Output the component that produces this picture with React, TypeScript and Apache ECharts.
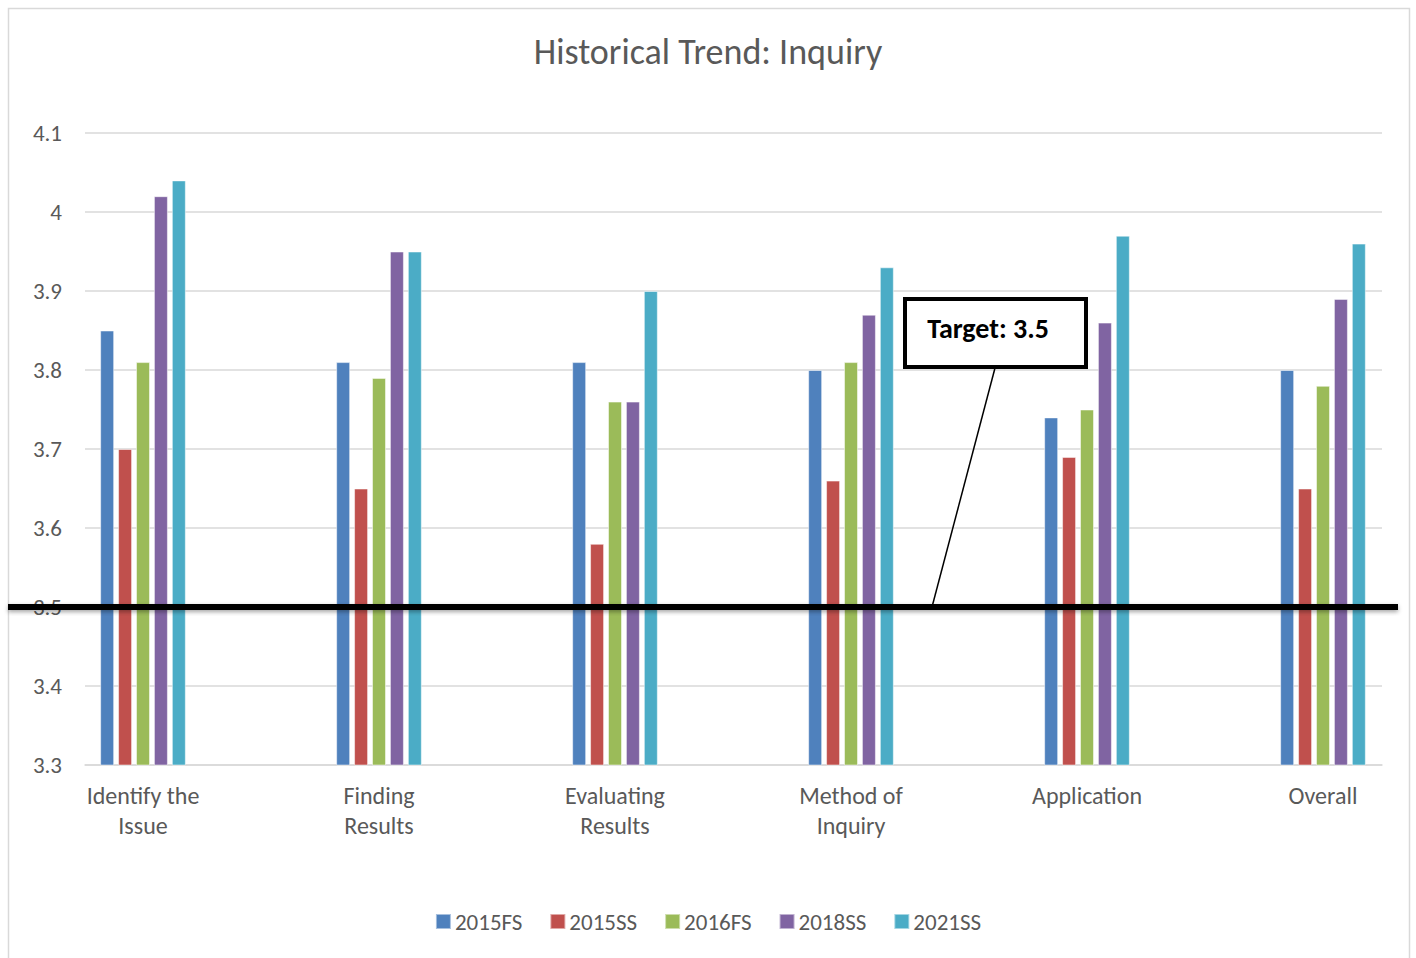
import React, { useEffect, useRef } from "react";
import * as echarts from "echarts";

const categories = ["Identify the\nIssue", "Finding\nResults", "Evaluating\nResults", "Method of\nInquiry", "Application", "Overall"];
const seriesNames = ["2015FS", "2015SS", "2016FS", "2018SS", "2021SS"];
const s2015FS = [3.85, 3.81, 3.81, 3.8, 3.74, 3.8];
const s2015SS = [3.7, 3.65, 3.58, 3.66, 3.69, 3.65];
const s2016FS = [3.81, 3.79, 3.76, 3.81, 3.75, 3.78];
const s2018SS = [4.02, 3.95, 3.76, 3.87, 3.86, 3.89];
const s2021SS = [4.04, 3.95, 3.9, 3.93, 3.97, 3.96];
const seriesValues = [s2015FS, s2015SS, s2016FS, s2018SS, s2021SS];
const colors = ["#4F81BD", "#C0504D", "#9BBB59", "#8064A2", "#4BACC6"];
const TARGET = 3.5;
const targetLabel = "Target: 3.5";
const FONT = "Carlito, Lato, 'Liberation Sans', sans-serif";

export default function App() {
  const ref = useRef<HTMLDivElement>(null);
  useEffect(() => {
    if (!ref.current) return;
    const chart = echarts.init(ref.current, undefined, { renderer: "svg" });
    chart.setOption({
      animation: false,
      backgroundColor: "#ffffff",
      color: colors,
      title: {
        text: "Historical Trend: Inquiry",
        left: "center",
        top: 29,
        textStyle: { fontFamily: FONT, fontSize: 36, fontWeight: "normal", color: "#595959" },
      },
      grid: [
        { left: 85, right: 34, top: 133, bottom: 193, outerBoundsMode: "none" },
        { left: 25, right: -25, top: 133, bottom: 193, outerBoundsMode: "none" },
      ],
      legend: {
        bottom: 20,
        left: "center",
        itemWidth: 15,
        itemHeight: 15,
        itemGap: 27,
        icon: "rect",
        textStyle: { fontFamily: FONT, fontSize: 23, color: "#595959", padding: [0, 0, 0, -1] },
        data: seriesNames,
      },
      xAxis: [
        {
          gridIndex: 0,
          type: "category",
          data: categories,
          axisLine: { show: true, lineStyle: { color: "#d9d9d9", width: 1.5 } },
          axisTick: { show: false },
          axisLabel: { show: false },
        },
        {
          gridIndex: 1,
          type: "category",
          data: categories,
          axisLine: { show: false },
          axisTick: { show: false },
          axisLabel: { fontFamily: FONT, fontSize: 24, color: "#595959", lineHeight: 30, margin: 15, interval: 0 },
        },
      ],
      yAxis: [
        {
          gridIndex: 0,
          type: "value",
          min: 3.3,
          max: 4.1,
          interval: 0.1,
          axisLine: { show: false },
          axisTick: { show: false },
          axisLabel: {
            fontFamily: FONT,
            fontSize: 23,
            color: "#595959",
            margin: 23,
            formatter: (v: number) => String(+v.toFixed(1)),
          },
          splitLine: { lineStyle: { color: "#d9d9d9", width: 1.5 } },
        },
        {
          gridIndex: 1,
          type: "value",
          min: 3.3,
          max: 4.1,
          interval: 0.1,
          show: false,
          splitLine: { show: false },
        },
      ],
      series: seriesNames.map((name, i) => ({
        name,
        type: "bar",
        xAxisIndex: 1,
        yAxisIndex: 1,
        data: seriesValues[i],
        barWidth: 14,
        barGap: "28%",
        itemStyle: { color: colors[i], borderColor: "rgba(255,255,255,0.5)", borderWidth: 1 },
      })),
    });

    const y = chart.convertToPixel({ yAxisIndex: 0 }, TARGET) as number;
    chart.setOption({
      graphic: [
        {
          type: "rect",
          shape: { x: 8.5, y: 8.5, width: 1401, height: 960 },
          style: { fill: "none", stroke: "#d9d9d9", lineWidth: 1.5 },
          silent: true,
          z: 0,
        },
        {
          type: "rect",
          shape: { x: 8, y: y - 3, width: 1390, height: 6 },
          style: { fill: "#000000", shadowBlur: 4, shadowColor: "rgba(0,0,0,0.35)", shadowOffsetY: 2 },
          z: 100,
        },
        {
          type: "line",
          shape: { x1: 995, y1: 368, x2: 932, y2: y },
          style: { stroke: "#000000", lineWidth: 1.5 },
          z: 100,
        },
        {
          type: "rect",
          shape: { x: 905, y: 299, width: 181, height: 68 },
          style: { fill: "#ffffff", stroke: "#000000", lineWidth: 4 },
          z: 101,
        },
        {
          type: "text",
          x: 988,
          y: 328,
          style: {
            text: targetLabel,
            fontFamily: FONT,
            fontSize: 28,
            fontWeight: "bold",
            fill: "#000000",
            align: "center",
            verticalAlign: "middle",
          },
          z: 102,
        },
      ],
    });
    return () => chart.dispose();
  }, []);
  return <div ref={ref} style={{ position: "absolute", left: 0, top: 0, width: 1416, height: 958 }} />;
}
